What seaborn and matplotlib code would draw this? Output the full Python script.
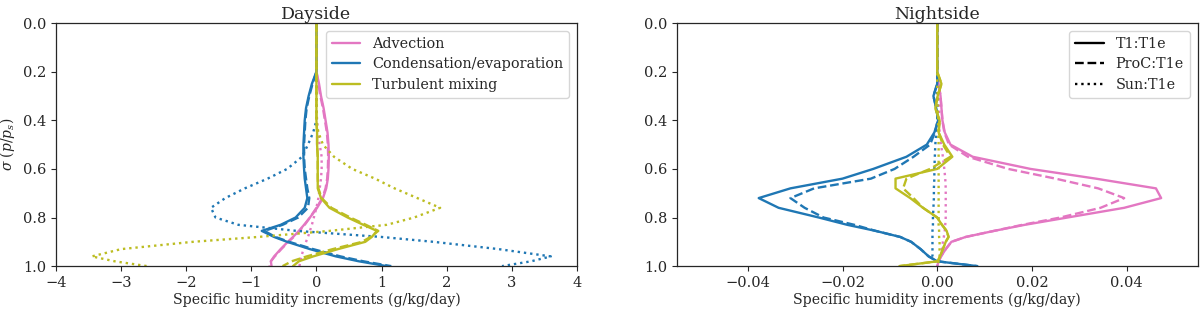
#!/usr/bin/env python3
"""Specific humidity increments, dayside vs nightside."""

import matplotlib

matplotlib.use("Agg")
import matplotlib.pyplot as plt
import pandas as pd
import seaborn as sns
from matplotlib.lines import Line2D

# sigma levels (p/p_s)
SIGMA = [0.0, 0.2, 0.25, 0.3, 0.35, 0.4, 0.45, 0.5, 0.55, 0.6, 0.64, 0.68,
         0.72, 0.76, 0.8, 0.83, 0.855, 0.88, 0.9, 0.93, 0.96, 0.98, 1.0]

PROCESSES = ["Advection", "Condensation/evaporation", "Turbulent mixing"]
RUNS = ["T1:T1e", "ProC:T1e", "Sun:T1e"]

# dayside (g/kg/day)
DAY_ADV_T1 = [0, 0, 0.04, 0.07, 0.11, 0.14, 0.17, 0.185, 0.19, 0.185, 0.175, 0.15,
              0.1, 0.01, -0.1, -0.19, -0.27, -0.36, -0.44, -0.55, -0.65, -0.7, -0.69]
DAY_ADV_PROC = [0, 0, 0.03, 0.06, 0.1, 0.13, 0.16, 0.175, 0.18, 0.175, 0.165, 0.14,
                0.09, 0.0, -0.1, -0.18, -0.26, -0.35, -0.43, -0.54, -0.64, -0.7, -0.72]
DAY_ADV_SUN = [0, 0, 0, 0, 0, 0.01, 0.02, 0.05, 0.08, 0.08, 0.07, 0.05,
               0.03, 0.0, -0.04, -0.07, -0.1, -0.13, -0.16, -0.2, -0.23, -0.25, -0.26]
DAY_COND_T1 = [0, 0, -0.07, -0.12, -0.16, -0.18, -0.19, -0.2, -0.2, -0.19, -0.18, -0.16,
               -0.14, -0.18, -0.32, -0.55, -0.84, -0.65, -0.45, -0.1, 0.3, 0.65, 1.08]
DAY_COND_PROC = [0, 0, -0.06, -0.11, -0.15, -0.17, -0.18, -0.19, -0.19, -0.18, -0.16, -0.14,
                 -0.11, -0.13, -0.28, -0.52, -0.8, -0.63, -0.42, -0.05, 0.37, 0.72, 1.15]
DAY_COND_SUN = [0, 0, 0, 0, 0, 0, -0.05, -0.13, -0.22, -0.45, -0.75, -1.1,
                -1.4, -1.62, -1.55, -1.2, -0.3, 1.0, 1.8, 2.8, 3.6, 3.3, 2.85]
DAY_TURB_T1 = [0, 0, 0, 0, 0, 0, 0.01, 0.01, 0.02, 0.02, 0.02, 0.02,
               0.07, 0.2, 0.48, 0.72, 0.93, 0.85, 0.75, 0.33, -0.05, -0.27, -0.36]
DAY_TURB_PROC = [0, 0, 0, 0, 0, 0, 0.01, 0.01, 0.02, 0.02, 0.02, 0.03,
                 0.08, 0.23, 0.52, 0.76, 0.95, 0.83, 0.7, 0.25, -0.15, -0.38, -0.52]
DAY_TURB_SUN = [0, 0, 0, 0, 0, 0, 0.03, 0.1, 0.27, 0.55, 0.9, 1.2,
                1.55, 1.9, 1.5, 1.08, 0.2, -0.9, -1.9, -3.0, -3.45, -3.1, -2.6]

# nightside (g/kg/day)
NIGHT_ADV_T1 = [0, 0, 0.0003, 0.0007, 0.0009, 0.0011, 0.0016, 0.0028, 0.0075, 0.0197, 0.0335, 0.0462,
                0.0473, 0.0395, 0.0275, 0.0185, 0.012, 0.006, 0.003, 0.0018, 0.0008, 0.0003, 0.0]
NIGHT_ADV_PROC = [0, 0, 0.0003, 0.0007, 0.0009, 0.0011, 0.0015, 0.0025, 0.0065, 0.015, 0.025, 0.034,
                  0.0395, 0.0345, 0.026, 0.018, 0.012, 0.006, 0.003, 0.0018, 0.0008, 0.0003, 0.0]
NIGHT_ADV_SUN = [0, 0, 0.0001, 0.0003, 0.0004, 0.0004, 0.0005, 0.0008, 0.0012, 0.0015, 0.0017, 0.0018,
                 0.0018, 0.0018, 0.0018, 0.0017, 0.0016, 0.0014, 0.0012, 0.001, 0.0007, 0.0003, 0.0]
NIGHT_COND_T1 = [0, 0, 0, -0.0008, -0.0002, 0.0002, -0.0006, -0.0022, -0.0065, -0.0135, -0.02, -0.031,
                 -0.0377, -0.0335, -0.025, -0.019, -0.013, -0.0078, -0.0055, -0.0035, -0.0018, 0.0, 0.0085]
NIGHT_COND_PROC = [0, 0, 0, -0.0008, -0.0002, 0.0002, -0.0005, -0.0015, -0.005, -0.009, -0.014, -0.026,
                   -0.031, -0.028, -0.024, -0.0175, -0.013, -0.0078, -0.0055, -0.0035, -0.0018, 0.0, 0.0085]
NIGHT_COND_SUN = [0, 0, 0, 0, 0, 0, -0.0002, -0.0004, -0.0005, -0.0006, -0.0006, -0.0007,
                  -0.0007, -0.0008, -0.0009, -0.0009, -0.001, -0.001, -0.001, -0.001, -0.001, -0.0004, 0.0]
NIGHT_TURB_T1 = [0, 0, 0.0009, 0.0001, -0.0004, 0.0005, 0.0003, 0.0015, 0.0032, 0.0, -0.0088, -0.0088,
                 -0.0057, -0.003, 0.0, 0.001, 0.002, 0.0024, 0.0018, 0.0012, 0.0006, 0.0001, -0.008]
NIGHT_TURB_PROC = [0, 0, 0.0009, 0.0001, -0.0004, 0.0005, 0.0003, 0.0012, 0.0028, -0.0015, -0.0065, -0.0072,
                   -0.005, -0.003, 0.0, 0.001, 0.002, 0.0024, 0.0018, 0.0012, 0.0006, 0.0001, -0.008]
NIGHT_TURB_SUN = [0, 0, 0, 0.0001, 0.0001, 0.0002, 0.0002, 0.0003, 0.0003, 0.0003, 0.0003, 0.0003,
                  0.0003, 0.0003, 0.0003, 0.0003, 0.0004, 0.0004, 0.0005, 0.0005, 0.0005, 0.0003, 0.0]

COLORS = {"Advection": "#e377c2", "Condensation/evaporation": "#1f77b4",
          "Turbulent mixing": "#bcbd22"}
DASHES = {"T1:T1e": "", "ProC:T1e": (3.7, 1.6), "Sun:T1e": (1, 1.65)}


def long_table(side, curves):
    rows = []
    for (proc, run), vals in curves.items():
        for s, v in zip(SIGMA, vals):
            rows.append({"side": side, "process": proc, "run": run, "sigma": s, "value": v})
    return pd.DataFrame(rows)


day = long_table("Dayside", {
    ("Advection", "T1:T1e"): DAY_ADV_T1, ("Advection", "ProC:T1e"): DAY_ADV_PROC,
    ("Advection", "Sun:T1e"): DAY_ADV_SUN,
    ("Condensation/evaporation", "T1:T1e"): DAY_COND_T1,
    ("Condensation/evaporation", "ProC:T1e"): DAY_COND_PROC,
    ("Condensation/evaporation", "Sun:T1e"): DAY_COND_SUN,
    ("Turbulent mixing", "T1:T1e"): DAY_TURB_T1, ("Turbulent mixing", "ProC:T1e"): DAY_TURB_PROC,
    ("Turbulent mixing", "Sun:T1e"): DAY_TURB_SUN,
})
night = long_table("Nightside", {
    ("Advection", "T1:T1e"): NIGHT_ADV_T1, ("Advection", "ProC:T1e"): NIGHT_ADV_PROC,
    ("Advection", "Sun:T1e"): NIGHT_ADV_SUN,
    ("Condensation/evaporation", "T1:T1e"): NIGHT_COND_T1,
    ("Condensation/evaporation", "ProC:T1e"): NIGHT_COND_PROC,
    ("Condensation/evaporation", "Sun:T1e"): NIGHT_COND_SUN,
    ("Turbulent mixing", "T1:T1e"): NIGHT_TURB_T1, ("Turbulent mixing", "ProC:T1e"): NIGHT_TURB_PROC,
    ("Turbulent mixing", "Sun:T1e"): NIGHT_TURB_SUN,
})

sns.set_style("ticks")
plt.rcParams["font.family"] = ["DejaVu Serif"]
plt.rcParams["mathtext.fontset"] = "dejavuserif"
plt.rcParams["font.size"] = 10.5

fig = plt.figure(figsize=(12, 3.12), dpi=100)
ax_day = fig.add_axes([0.0467, 0.147, 0.434, 0.779])
ax_night = fig.add_axes([0.564, 0.147, 0.434, 0.779])

for ax, df, title in [(ax_day, day, "Dayside"), (ax_night, night, "Nightside")]:
    for proc in PROCESSES:
        for run in RUNS:
            sub = df[(df["process"] == proc) & (df["run"] == run)]
            sns.lineplot(data=sub, x="value", y="sigma", sort=False, estimator=None,
                         orient="y", color=COLORS[proc], linewidth=1.7,
                         dashes=False, ax=ax, legend=False)
            line = ax.lines[-1]
            if DASHES[run]:
                line.set_dashes(DASHES[run])
    ax.set_ylim(1.0, 0.0)
    ax.set_yticks([0.0, 0.2, 0.4, 0.6, 0.8, 1.0])
    ax.tick_params(labelsize=10.5)
    ax.set_title(title, fontsize=12.5, pad=3)
    ax.set_xlabel("Specific humidity increments (g/kg/day)", fontsize=10.2, labelpad=2)
    ax.set_ylabel("")
    for sp in ax.spines.values():
        sp.set_linewidth(0.9)

ax_day.set_xlim(-4, 4)
ax_day.set_ylabel(r"$\sigma$ ($p/p_s$)", fontsize=10, labelpad=4)
ax_night.set_xlim(-0.055, 0.055)
ax_night.set_xticks([-0.04, -0.02, 0.0, 0.02, 0.04])

color_handles = [Line2D([], [], color=COLORS[p], lw=1.7) for p in PROCESSES]
ax_day.legend(color_handles, PROCESSES, loc="upper right", fontsize=10.4,
              labelspacing=0.45, borderaxespad=0.55)

style_handles = []
for run in RUNS:
    h = Line2D([], [], color="black", lw=1.7)
    if DASHES[run]:
        h.set_dashes(DASHES[run])
    style_handles.append(h)
ax_night.legend(style_handles, RUNS, loc="upper right", fontsize=10.4,
                labelspacing=0.45, borderaxespad=0.55)

fig.savefig("out.png", dpi=100)
